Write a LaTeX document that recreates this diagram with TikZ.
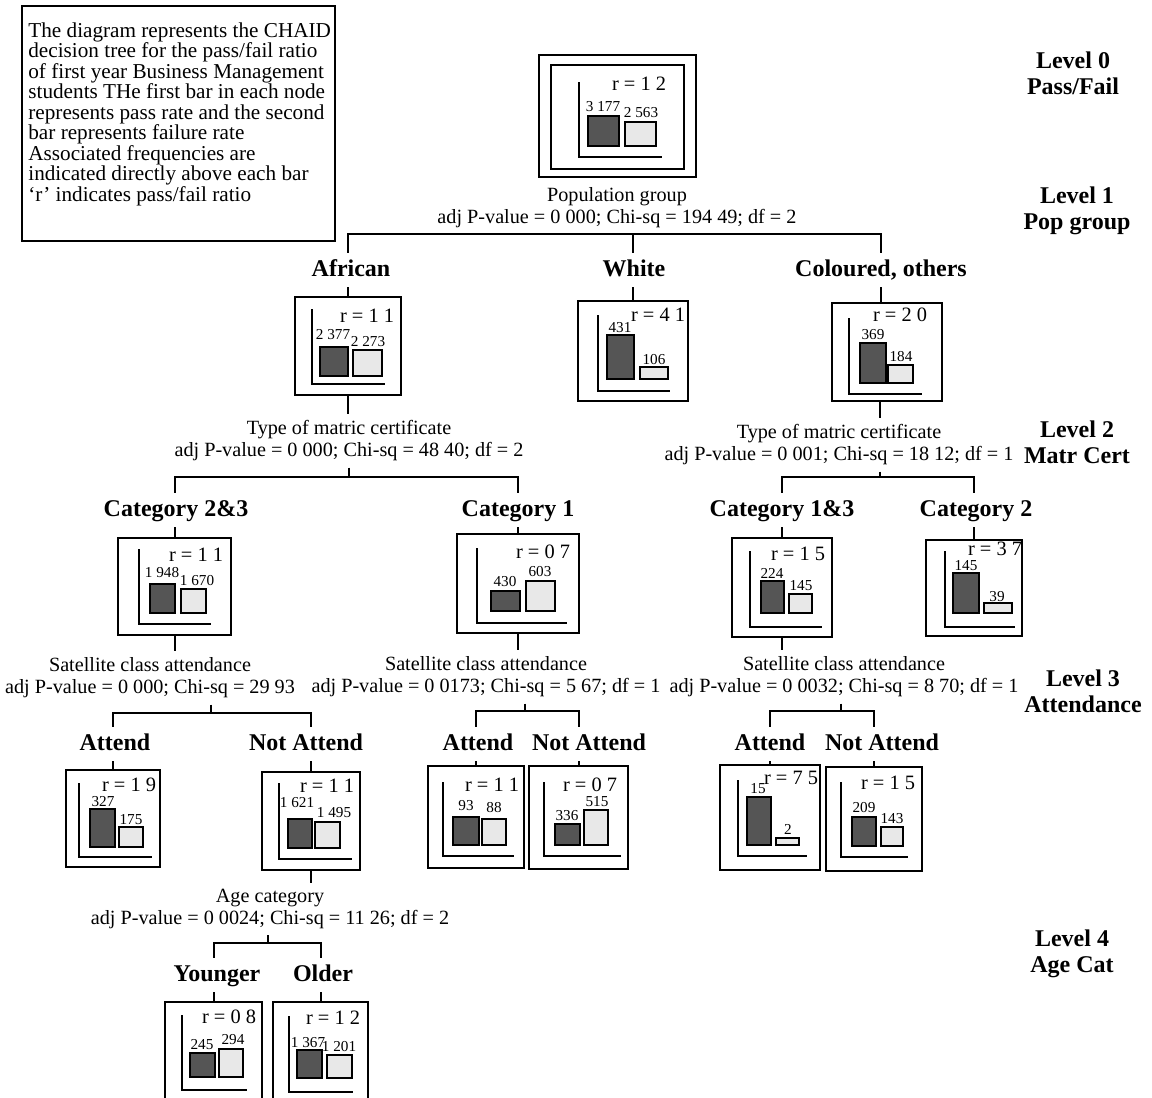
\documentclass[tikz,border=0pt]{standalone}
\usepackage{fontspec}
\setmainfont{Liberation Serif}
\usepackage{xcolor}
\usepackage{tikz}
\usetikzlibrary{calc}
\usetikzlibrary{fit}

\definecolor{passgray}{RGB}{85,85,85}
\definecolor{failgray}{RGB}{232,232,232}

\begin{document}
\begin{tikzpicture}[x=0.5pt,y=-0.5pt,
	box/.style={draw,line width=1pt,inner sep=0pt},
	link/.style={line width=1pt},
	axisline/.style={line width=1pt},
	passbar/.style={draw,line width=0.85pt,fill=passgray},
	failbar/.style={draw,line width=0.85pt,fill=failgray},
	branch/.style={font=\bfseries\fontsize{12}{13}\selectfont,inner xsep=0pt,inner ysep=2.5pt,text height=9pt,text depth=3pt},
	level/.style={font=\bfseries\fontsize{12}{13}\selectfont,align=center,inner sep=0pt},
	split/.style={font=\fontsize{10.1}{11}\selectfont,align=center,inner xsep=0pt,inner ysep=3pt},
	ratio/.style={font=\fontsize{10.2}{10}\selectfont,inner sep=0pt},
	freq/.style={font=\fontsize{7.6}{8}\selectfont,inner sep=0pt}]
	\path[use as bounding box,clip] (0,0) rectangle (1152,1098);
	
	% note and level names
	\draw[line width=1pt] (22,6) rectangle (335,241);
	\node[anchor=north west,align=left,inner sep=0pt,font=\fontsize{10.6}{10.25}\selectfont] (note) at (28,22) {The diagram represents the CHAID\\decision tree for the pass/fail ratio\\of first year Business Management\\students THe first bar in each node\\represents pass rate and the second\\bar represents failure rate\\Associated frequencies are\\indicated directly above each bar\\`r' indicates pass/fail ratio};
	\node[level] (lev0) at (1073,73) {Level 0\\Pass/Fail};
	\node[level] (lev1) at (1077,211) {Level 1\\Pop group};
	\node[level] (lev2) at (1077,442) {Level 2\\Matr Cert};
	\node[level] (lev3) at (1083,691) {Level 3\\Attendance};
	\node[level] (lev4) at (1072,954) {Level 4\\Age Cat};
	
	% level 0
	\node[box,fit={(539,55) (696,177)}] (rootbox) {};
	\node[box,fit={(551,65) (684,169)}] (rootinner) {};
	\draw[axisline] (579,82) |- (662,157);
	\draw[passbar] (588,116) rectangle (619,146);
	\draw[failbar] (625,122) rectangle (656,146);
	\node[ratio] (root-r) at (639,84) {r = 1 2};
	\node[freq] (root-p) at (603,107) {3 177};
	\node[freq] (root-f) at (641,113) {2 563};
	\node[split] (popsplit) at (617,208) {Population group\\adj P-value = 0 000; Chi-sq = 194 49; df = 2};
	
	% level 1
	\node[branch] (african) at (351,270) {African};
	\node[branch] (white) at (634,270) {White};
	\node[branch] (coloured) at (881,270) {Coloured, others};
	
	\node[box,fit={(295,297) (401,395)}] (africanbox) {};
	\draw[axisline] (312,309) |- (385,384);
	\draw[passbar] (320,347) rectangle (348,376);
	\draw[failbar] (353,350) rectangle (382,376);
	\node[ratio] (afr-r) at (367,316) {r = 1 1};
	\node[freq] (afr-p) at (333,335) {2 377};
	\node[freq] (afr-f) at (368,342) {2 273};
	
	\node[box,fit={(578,301) (688,401)}] (whitebox) {};
	\draw[axisline] (598,315) |- (670,391);
	\draw[passbar] (607,335) rectangle (634,379);
	\draw[failbar] (640,367) rectangle (668,379);
	\node[ratio] (wht-r) at (658,315) {r = 4 1};
	\node[freq] (wht-p) at (620,328) {431};
	\node[freq] (wht-f) at (654,360) {106};
	
	\node[box,fit={(832,303) (942,401)}] (colouredbox) {};
	\draw[axisline] (849,318) |- (922,394);
	\draw[passbar] (860,343) rectangle (886,383);
	\draw[failbar] (888,365) rectangle (913,383);
	\node[ratio] (col-r) at (900,315) {r = 2 0};
	\node[freq] (col-p) at (873,335) {369};
	\node[freq] (col-f) at (901,357) {184};
	
	\coordinate (popbar) at (617,234);
	\draw[link] (african.north -| africanbox.north) -- (popbar -| africanbox.north) -- (popbar -| coloured.north) -- (coloured.north);
	\draw[link] (popbar -| whitebox.north) -- (white.north -| whitebox.north);
	\draw[link] (african.south -| africanbox.north) -- (africanbox.north);
	\draw[link] (white.south -| whitebox.north) -- (whitebox.north);
	\draw[link] (coloured.south) -- (colouredbox.north -| coloured.south);
	
	% level 2
	\node[split] (matLsplit) at (349,441) {Type of matric certificate\\adj P-value = 0 000; Chi-sq = 48 40; df = 2};
	\node[split] (matRsplit) at (839,445) {Type of matric certificate\\adj P-value = 0 001; Chi-sq = 18 12; df = 1};
	\node[branch] (cat23) at (176,510) {Category 2\&3};
	\node[branch] (cat1) at (518,510) {Category 1};
	\node[branch] (cat13) at (782,510) {Category 1\&3};
	\node[branch] (cat2) at (976,510) {Category 2};
	
	\node[box,fit={(118,538) (231,635)}] (cat23box) {};
	\draw[axisline] (139,549) |- (211,624);
	\draw[passbar] (150,584) rectangle (175,613);
	\draw[failbar] (181,589) rectangle (206,613);
	\node[ratio] (c23-r) at (196,555) {r = 1 1};
	\node[freq] (c23-p) at (162,573) {1 948};
	\node[freq] (c23-f) at (197,581) {1 670};
	
	\node[box,fit={(457,534) (579,633)}] (cat1box) {};
	\draw[axisline] (477,548) |- (567,623);
	\draw[passbar] (491,591) rectangle (520,611);
	\draw[failbar] (526,581) rectangle (555,611);
	\node[ratio] (c1-r) at (543,552) {r = 0 7};
	\node[freq] (c1-p) at (505,582) {430};
	\node[freq] (c1-f) at (540,572) {603};
	
	\node[box,fit={(732,538) (832,637)}] (cat13box) {};
	\draw[axisline] (750,551) |- (822,627);
	\draw[passbar] (761,581) rectangle (784,613);
	\draw[failbar] (789,594) rectangle (812,613);
	\node[ratio] (c13-r) at (798,554) {r = 1 5};
	\node[freq] (c13-p) at (772,573) {224};
	\node[freq] (c13-f) at (801,586) {145};
	
	\node[box,fit={(926,540) (1022,636)}] (cat2box) {};
	\draw[axisline] (945,551) |- (1015,627);
	\draw[passbar] (953,573) rectangle (979,613);
	\draw[failbar] (984,603) rectangle (1012,613);
	\node[ratio] (c2-r) at (995,549) {r = 3 7};
	\node[freq] (c2-p) at (966,566) {145};
	\node[freq] (c2-f) at (997,597) {39};
	
	\draw[link] (africanbox.south) -- (matLsplit.north -| africanbox.south);
	\coordinate (matLbar) at (349,477);
	\draw[link] (matLsplit.south) -- (matLbar);
	\draw[link] (cat23.north -| cat23box.north) -- (matLbar -| cat23box.north) -- (matLbar -| cat1box.north) -- (cat1.north -| cat1box.north);
	\draw[link] (cat23.south -| cat23box.north) -- (cat23box.north);
	\draw[link] (cat1.south -| cat1box.north) -- (cat1box.north);
	
	\coordinate (matRbar) at (880,477);
	\draw[link] (colouredbox.south -| matRbar) -- (matRsplit.north -| matRbar);
	\draw[link] (matRsplit.south -| matRbar) -- (matRbar);
	\draw[link] (cat13.north -| cat13box.north) -- (matRbar -| cat13box.north) -- (matRbar -| cat2box.north) -- (cat2.north -| cat2box.north);
	\draw[link] (cat13.south -| cat13box.north) -- (cat13box.north);
	\draw[link] (cat2.south -| cat2box.north) -- (cat2box.north);
	
	% level 3
	\node[split] (satLsplit) at (150,678) {Satellite class attendance\\adj P-value = 0 000; Chi-sq = 29 93};
	\node[split] (satMsplit) at (486,677) {Satellite class attendance\\adj P-value = 0 0173; Chi-sq = 5 67; df = 1};
	\node[split] (satRsplit) at (844,677) {Satellite class attendance\\adj P-value = 0 0032; Chi-sq = 8 70; df = 1};
	\node[branch] (attL) at (115,744) {Attend};
	\node[branch] (natL) at (306,744) {Not Attend};
	\node[branch] (attM) at (478,744) {Attend};
	\node[branch] (natM) at (589,744) {Not Attend};
	\node[branch] (attR) at (770,744) {Attend};
	\node[branch] (natR) at (882,744) {Not Attend};
	
	\node[box,fit={(66,770) (160,867)}] (attLbox) {};
	\draw[axisline] (79,783) |- (152,857);
	\draw[passbar] (90,809) rectangle (115,847);
	\draw[failbar] (119,827) rectangle (143,847);
	\node[ratio] (atl-r) at (129,785) {r = 1 9};
	\node[freq] (atl-p) at (103,802) {327};
	\node[freq] (atl-f) at (131,820) {175};
	
	\node[box,fit={(262,772) (360,870)}] (natLbox) {};
	\draw[axisline] (279,783) |- (352,859);
	\draw[passbar] (288,819) rectangle (312,848);
	\draw[failbar] (315,822) rectangle (340,848);
	\node[ratio] (ntl-r) at (327,786) {r = 1 1};
	\node[freq] (ntl-p) at (297,803) {1 621};
	\node[freq] (ntl-f) at (334,813) {1 495};
	
	\node[box,fit={(428,766) (524,868)}] (attMbox) {};
	\draw[axisline] (443,782) |- (514,856);
	\draw[passbar] (453,817) rectangle (479,845);
	\draw[failbar] (482,819) rectangle (506,845);
	\node[ratio] (atm-r) at (492,785) {r = 1 1};
	\node[freq] (atm-p) at (466,806) {93};
	\node[freq] (atm-f) at (494,808) {88};
	
	\node[box,fit={(529,766) (628,869)}] (natMbox) {};
	\draw[axisline] (544,782) |- (621,856);
	\draw[passbar] (555,824) rectangle (580,845);
	\draw[failbar] (584,810) rectangle (608,845);
	\node[ratio] (ntm-r) at (590,785) {r = 0 7};
	\node[freq] (ntm-p) at (567,816) {336};
	\node[freq] (ntm-f) at (597,802) {515};
	
	\node[box,fit={(720,765) (820,870)}] (attRbox) {};
	\draw[axisline] (738,780) |- (807,856);
	\draw[passbar] (747,797) rectangle (771,845);
	\draw[failbar] (776,838) rectangle (799,845);
	\node[ratio] (atr-r) at (791,778) {r = 7 5};
	\node[freq] (atr-p) at (758,789) {15};
	\node[freq] (atr-f) at (788,829) {2};
	
	\node[box,fit={(826,767) (922,871)}] (natRbox) {};
	\draw[axisline] (841,782) |- (908,857);
	\draw[passbar] (852,817) rectangle (876,846);
	\draw[failbar] (881,827) rectangle (903,846);
	\node[ratio] (ntr-r) at (888,783) {r = 1 5};
	\node[freq] (ntr-p) at (864,808) {209};
	\node[freq] (ntr-f) at (892,819) {143};
	
	\draw[link] (cat23box.south) -- (satLsplit.north -| cat23box.south);
	\coordinate (satLbar) at (211,713);
	\draw[link] (satLsplit.south -| satLbar) -- (satLbar);
	\draw[link] (attL.north -| attLbox.north) -- (satLbar -| attLbox.north) -- (satLbar -| natLbox.north) -- (natL.north -| natLbox.north);
	\draw[link] (attL.south -| attLbox.north) -- (attLbox.north);
	\draw[link] (natL.south -| natLbox.north) -- (natLbox.north);
	
	\draw[link] (cat1box.south) -- (satMsplit.north -| cat1box.south);
	\coordinate (satMbar) at (525,711);
	\draw[link] (satMsplit.south -| satMbar) -- (satMbar);
	\draw[link] (attM.north -| attMbox.north) -- (satMbar -| attMbox.north) -- (satMbar -| natMbox.north) -- (natM.north -| natMbox.north);
	\draw[link] (attM.south -| attMbox.north) -- (attMbox.north);
	\draw[link] (natM.south -| natMbox.north) -- (natMbox.north);
	
	\draw[link] (cat13box.south) -- (satRsplit.north -| cat13box.south);
	\coordinate (satRbar) at (841,711);
	\draw[link] (satRsplit.south -| satRbar) -- (satRbar);
	\draw[link] (attR.north -| attRbox.north) -- (satRbar -| attRbox.north) -- (satRbar -| natRbox.north) -- (natR.north -| natRbox.north);
	\draw[link] (attR.south -| attRbox.north) -- (attRbox.north);
	\draw[link] (natR.south -| natRbox.north) -- (natRbox.north);
	
	% level 4
	\node[split] (agesplit) at (270,909) {Age category\\adj P-value = 0 0024; Chi-sq = 11 26; df = 2};
	\node[branch] (younger) at (217,975) {Younger};
	\node[branch] (older) at (323,975) {Older};
	
	\node[box,fit={(165,1002) (262,1110)}] (youngerbox) {};
	\draw[axisline] (182,1015) |- (247,1090);
	\draw[passbar] (190,1053) rectangle (215,1077);
	\draw[failbar] (219,1049) rectangle (243,1077);
	\node[ratio] (yng-r) at (229,1017) {r = 0 8};
	\node[freq] (yng-p) at (202,1045) {245};
	\node[freq] (yng-f) at (233,1040) {294};
	
	\node[box,fit={(273,1002) (368,1110)}] (olderbox) {};
	\draw[axisline] (289,1016) |- (353,1092);
	\draw[passbar] (297,1050) rectangle (322,1078);
	\draw[failbar] (327,1055) rectangle (352,1078);
	\node[ratio] (old-r) at (333,1018) {r = 1 2};
	\node[freq] (old-p) at (308,1043) {1 367};
	\node[freq] (old-f) at (339,1047) {1 201};
	
	\draw[link] (natLbox.south) -- (agesplit.north -| natLbox.south);
	\coordinate (agebar) at (268,943);
	\draw[link] (agesplit.south -| agebar) -- (agebar);
	\draw[link] (younger.north -| youngerbox.north) -- (agebar -| youngerbox.north) -- (agebar -| olderbox.north) -- (older.north -| olderbox.north);
	\draw[link] (younger.south -| youngerbox.north) -- (youngerbox.north);
	\draw[link] (older.south -| olderbox.north) -- (olderbox.north);
\end{tikzpicture}
\end{document}
